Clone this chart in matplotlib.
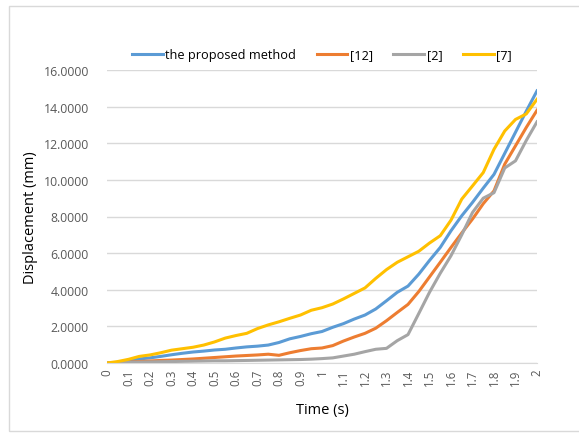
import numpy as np
import matplotlib
matplotlib.use('Agg')
from matplotlib import pyplot as plt
from matplotlib.patches import Rectangle

# Time samples every 0.05 s
time = [round(0.05 * i, 2) for i in range(41)]

proposed = [0, 0.03, 0.12, 0.22, 0.28, 0.36, 0.45, 0.53, 0.60, 0.65,
            0.71, 0.75, 0.82, 0.88, 0.92, 0.98, 1.12, 1.32, 1.45, 1.60,
            1.72, 1.95, 2.15, 2.40, 2.62, 2.95, 3.40, 3.86, 4.20, 4.85,
            5.60, 6.31, 7.22, 8.04, 8.77, 9.55, 10.30, 11.45, 12.60, 13.75,
            14.86]
ref12 = [0, 0.02, 0.05, 0.08, 0.11, 0.14, 0.16, 0.19, 0.22, 0.26,
         0.30, 0.34, 0.38, 0.41, 0.44, 0.48, 0.42, 0.56, 0.68, 0.78,
         0.82, 0.95, 1.20, 1.42, 1.62, 1.90, 2.31, 2.76, 3.20, 3.90,
         4.70, 5.50, 6.31, 7.10, 7.86, 8.70, 9.40, 10.86, 11.86, 12.86,
         13.80]
ref2 = [0, 0.01, 0.03, 0.05, 0.06, 0.07, 0.08, 0.09, 0.10, 0.11,
        0.12, 0.12, 0.13, 0.14, 0.15, 0.16, 0.17, 0.18, 0.19, 0.21,
        0.24, 0.28, 0.38, 0.48, 0.62, 0.75, 0.80, 1.22, 1.55, 2.70,
        3.86, 4.90, 5.86, 7.00, 8.22, 9.00, 9.30, 10.65, 11.04, 12.15,
        13.17]
ref7 = [0, 0.08, 0.20, 0.36, 0.44, 0.56, 0.70, 0.78, 0.86, 0.98,
        1.15, 1.36, 1.50, 1.62, 1.88, 2.08, 2.25, 2.44, 2.62, 2.88,
        3.02, 3.22, 3.50, 3.80, 4.10, 4.62, 5.10, 5.50, 5.80, 6.10,
        6.55, 6.95, 7.80, 8.95, 9.67, 10.40, 11.67, 12.67, 13.30, 13.60,
        14.40]

series_names = ['the proposed method', '[12]', '[2]', '[7]']
series_colors = ['#5B9BD5', '#ED7D31', '#A5A5A5', '#FFC000']

x_ticks = [round(0.1 * i, 1) for i in range(21)]
x_labels = ['%g' % t for t in x_ticks]
y_ticks = list(range(0, 17, 2))

plt.rcParams['font.family'] = ['Open Sans', 'DejaVu Sans']

fig = plt.figure(figsize=(5.79, 4.35), dpi=100)
ax = fig.add_axes([107 / 579, 1 - 364 / 435, 430 / 579, 293 / 435])

# chart area border
fig.patches.append(Rectangle((9 / 579, 3 / 435), 1.0, 425 / 435, transform=fig.transFigure,
                             fill=False, edgecolor='#D9D9D9', linewidth=1.0))

for data, name, color in zip([proposed, ref12, ref2, ref7], series_names, series_colors):
    ax.plot(time, data, color=color, linewidth=2.2, label=name, solid_joinstyle='round')

ax.set_xlim(0, 2)
ax.set_ylim(0, 16)
ax.set_xticks(x_ticks)
ax.set_xticklabels(x_labels, rotation=90, fontsize=8.3, color='#595959')
ax.set_yticks(y_ticks)
ax.set_yticklabels(['%.4f' % v for v in y_ticks], fontsize=8.8, color='#595959')
ax.tick_params(length=0)
ax.tick_params(axis='y', pad=13)
ax.tick_params(axis='x', pad=4)
ax.grid(axis='y', color='#D9D9D9', linewidth=1.0)
ax.set_axisbelow(True)
for side in ['top', 'right', 'left']:
    ax.spines[side].set_visible(False)
ax.spines['bottom'].set_color('#D9D9D9')

ax.set_xlabel('Time (s)', fontsize=10.5, labelpad=12)
ax.set_ylabel('Displacement (mm)', fontsize=10.5, labelpad=4)

ax.legend(loc='lower center', bbox_to_anchor=(0.5, 0.99), ncol=4, frameon=False,
          fontsize=9.2, handlelength=2.4, columnspacing=1.6, handletextpad=0.2)

fig.savefig('out.png', dpi=100)
